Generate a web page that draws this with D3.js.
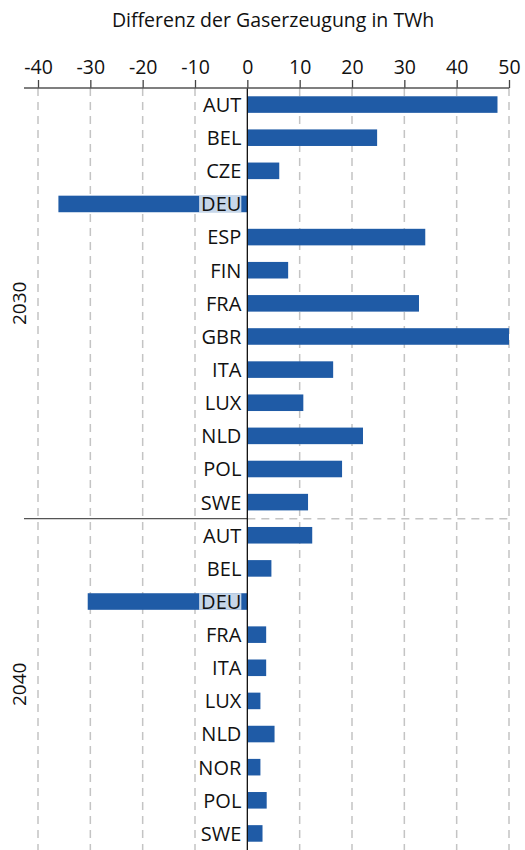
<!DOCTYPE html>
<html>
<head>
<meta charset="UTF-8">
<title>Gaserzeugung</title>
<script src="https://cdn.jsdelivr.net/npm/d3@7"></script>
<style>
body { margin: 0; background: #fff; }
text { font-family: "Open Sans", sans-serif; fill: #111; }
.grid line { stroke: #c4c4c4; stroke-width: 1.5px; stroke-dasharray: 8,6; }
</style>
</head>
<body>
<svg id="chart" width="525" height="850"></svg>
<script>
// data
var years = ["2030", "2040"];
var countries2030 = ["AUT","BEL","CZE","DEU","ESP","FIN","FRA","GBR","ITA","LUX","NLD","POL","SWE"];
var values2030 = [47.8, 24.8, 6.1, -36.1, 34.0, 7.8, 32.8, 50.0, 16.4, 10.7, 22.1, 18.1, 11.6];
var countries2040 = ["AUT","BEL","DEU","FRA","ITA","LUX","NLD","NOR","POL","SWE"];
var values2040 = [12.4, 4.6, -30.5, 3.6, 3.6, 2.5, 5.2, 2.5, 3.7, 2.9];
var xTicks = [-40, -30, -20, -10, 0, 10, 20, 30, 40, 50];

var rows = [];
countries2030.forEach(function(c, i) { rows.push({year: "2030", country: c, value: values2030[i]}); });
countries2040.forEach(function(c, i) { rows.push({year: "2040", country: c, value: values2040[i]}); });
rows.forEach(function(d) { d.key = d.year + "-" + d.country; });

var svg = d3.select("#chart");
var plotTop = 88, plotBottom = 850, plotLeft = 24;

var x = d3.scaleLinear().domain([-40, 50]).range([38, 509]);
var y = d3.scaleBand().domain(rows.map(function(d) { return d.key; }))
          .range([plotTop, plotBottom]).paddingInner(0.5).paddingOuter(0.25);

// title
svg.append("text").attr("x", 273).attr("y", 27).attr("text-anchor", "middle")
   .style("font-size", "19.5px").text("Differenz der Gaserzeugung in TWh");

// grid
svg.append("g").attr("class", "grid")
   .selectAll("line").data(xTicks.filter(function(t) { return t !== 0; }))
   .join("line")
   .attr("x1", function(d) { return x(d); }).attr("x2", function(d) { return x(d); })
   .attr("y1", plotTop).attr("y2", plotBottom);

// separator between the years
var sepY = y(rows[countries2030.length].key) - y.step() * y.paddingInner() / 2;
svg.append("line").attr("x1", plotLeft).attr("x2", x(0)).attr("y1", sepY).attr("y2", sepY)
   .style("stroke", "#555").style("stroke-width", 1.2);
svg.append("line").attr("x1", x(0)).attr("x2", x(50)).attr("y1", sepY).attr("y2", sepY)
   .style("stroke", "#c4c4c4").style("stroke-width", 1.5).style("stroke-dasharray", "8,6");

// bars
svg.append("g").selectAll("rect").data(rows).join("rect")
   .attr("x", function(d) { return x(Math.min(0, d.value)); })
   .attr("width", function(d) { return Math.abs(x(d.value) - x(0)); })
   .attr("y", function(d) { return y(d.key); })
   .attr("height", y.bandwidth())
   .attr("fill", "#1f5ba6");

// labels with a pale backing box
var lab = svg.append("g").selectAll("g").data(rows).join("g")
   .attr("transform", function(d) { return "translate(" + (x(0) - 6) + "," + (y(d.key) + y.bandwidth() / 2) + ")"; });
lab.append("text").attr("text-anchor", "end").attr("dy", "0.37em")
   .style("font-size", "20px").text(function(d) { return d.country; });
lab.each(function() {
  var g = d3.select(this);
  var bb = g.select("text").node().getBBox();
  g.insert("rect", "text").attr("x", bb.x - 2).attr("y", -y.bandwidth() / 2)
   .attr("width", bb.width + 2).attr("height", y.bandwidth())
   .attr("fill", "#fff").attr("fill-opacity", 0.75);
});

// zero line
svg.append("line").attr("x1", x(0)).attr("x2", x(0)).attr("y1", plotTop).attr("y2", plotBottom)
   .style("stroke", "#111").style("stroke-width", 1.3);

// axis on top (plain hyphen for negatives, like the original)
var axis = svg.append("g").attr("transform", "translate(0," + plotTop + ")")
   .call(d3.axisTop(x).tickValues(xTicks).tickFormat(function(d) { return String(d); })
           .tickSize(8).tickPadding(6));
axis.select(".domain").remove();
axis.selectAll(".tick line").style("stroke", "#444").style("stroke-width", 1.3);
axis.selectAll(".tick text").style("font-size", "19.5px").style("font-family", "Open Sans, sans-serif").attr("fill", "#111");
axis.append("line").attr("x1", plotLeft).attr("x2", x(50)).attr("y1", 0).attr("y2", 0)
   .style("stroke", "#555").style("stroke-width", 1.5);

// year labels
var groupMid = [
  (y(rows[0].key) + y(rows[countries2030.length - 1].key) + y.bandwidth()) / 2,
  (y(rows[countries2030.length].key) + y(rows[rows.length - 1].key) + y.bandwidth()) / 2
];
svg.selectAll(".year").data(years).join("text").attr("class", "year")
   .attr("transform", function(d, i) { return "translate(19," + groupMid[i] + ") rotate(-90)"; })
   .attr("text-anchor", "middle").attr("dy", "0.35em")
   .style("font-size", "19px").text(function(d) { return d; });
</script>
</body>
</html>
